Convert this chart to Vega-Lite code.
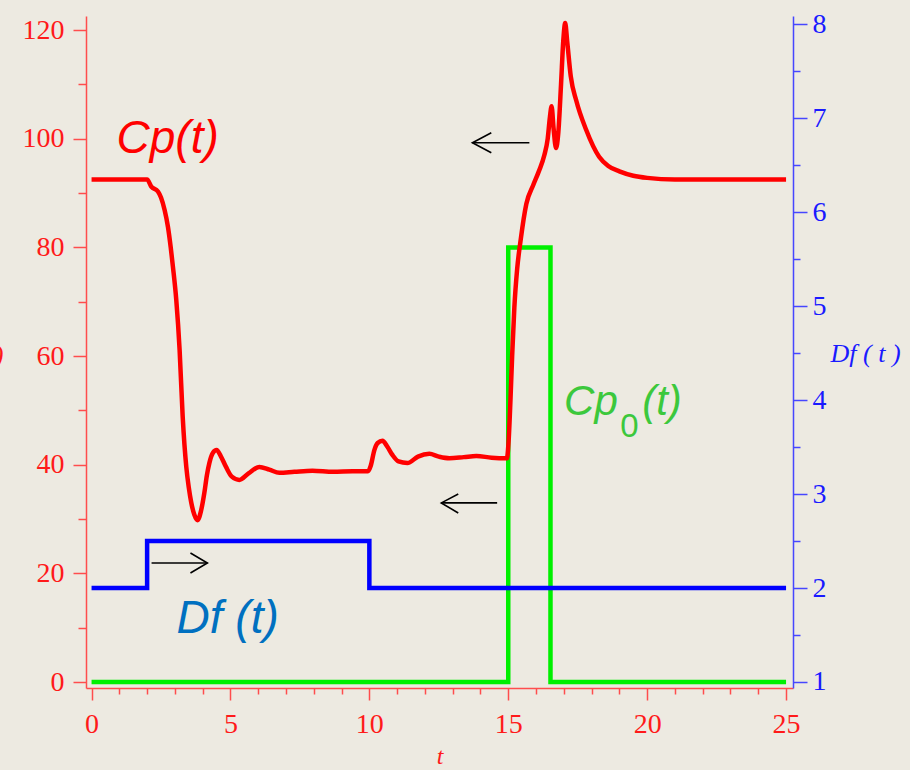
{
  "$schema": "https://vega.github.io/schema/vega-lite/v6.json",
  "width": 707,
  "height": 672,
  "autosize": "none",
  "padding": {"left": 86, "top": 16, "right": 117, "bottom": 82},
  "background": "#edeae1",
  "config": {"view": {"stroke": null}},
  "datasets": {
    "cp": [
      {"t":0,"v":92.5},{"t":1,"v":92.5},{"t":2.0,"v":92.5},{"t":2.15,"v":91.2},{"t":2.39,"v":90.3},{"t":2.5,"v":89.2},{"t":2.63,"v":86.9},{"t":2.75,"v":83.8},{"t":2.85,"v":80},{"t":2.93,"v":76.4},{"t":3.05,"v":70.3},{"t":3.17,"v":61.1},{"t":3.28,"v":48.9},{"t":3.41,"v":39.6},{"t":3.5,"v":35.8},{"t":3.59,"v":33},{"t":3.7,"v":30.8},{"t":3.82,"v":29.8},{"t":3.94,"v":31.5},{"t":4.06,"v":34.8},{"t":4.15,"v":38},{"t":4.24,"v":40.3},{"t":4.37,"v":42.2},{"t":4.5,"v":42.7},{"t":4.65,"v":41.6},{"t":4.84,"v":39.6},{"t":5.05,"v":37.8},{"t":5.32,"v":37.2},{"t":5.65,"v":38.4},{"t":6.04,"v":39.6},{"t":6.4,"v":39.1},{"t":6.76,"v":38.5},{"t":7.3,"v":38.7},{"t":7.95,"v":38.9},{"t":8.7,"v":38.7},{"t":9.4,"v":38.8},{"t":9.95,"v":38.8},{"t":10.05,"v":39.8},{"t":10.18,"v":42.7},{"t":10.3,"v":44},{"t":10.47,"v":44.4},{"t":10.65,"v":43.3},{"t":10.83,"v":41.8},{"t":11.05,"v":40.6},{"t":11.37,"v":40.3},{"t":11.75,"v":41.5},{"t":12.16,"v":42.0},{"t":12.5,"v":41.5},{"t":12.88,"v":41.2},{"t":13.4,"v":41.4},{"t":13.85,"v":41.6},{"t":14.4,"v":41.3},{"t":14.95,"v":41.2},{"t":15.02,"v":45},{"t":15.08,"v":52},{"t":15.14,"v":60},{"t":15.22,"v":69},{"t":15.32,"v":76},{"t":15.45,"v":81.5},{"t":15.65,"v":88},{"t":15.9,"v":91.5},{"t":16.1,"v":94},{"t":16.3,"v":97},{"t":16.42,"v":100},{"t":16.5,"v":104},{"t":16.56,"v":106},{"t":16.63,"v":102},{"t":16.72,"v":98.3},{"t":16.8,"v":101},{"t":16.9,"v":110},{"t":16.98,"v":118},{"t":17.05,"v":121.3},{"t":17.12,"v":118},{"t":17.25,"v":111.5},{"t":17.45,"v":107},{"t":17.8,"v":101.7},{"t":18.27,"v":96.7},{"t":18.6,"v":95},{"t":19.0,"v":94},{"t":19.5,"v":93.2},{"t":20.0,"v":92.8},{"t":21,"v":92.5},{"t":25,"v":92.5}
    ],
    "cp0": [
      {"t":0,"v":0},{"t":15.0,"v":0},{"t":15.0,"v":80},{"t":16.52,"v":80},{"t":16.52,"v":0},{"t":25,"v":0}
    ],
    "df": [
      {"t":0,"v":2},{"t":2.0,"v":2},{"t":2.0,"v":2.5},{"t":10.0,"v":2.5},{"t":10.0,"v":2},{"t":25,"v":2}
    ],
    "arrows": [
      {"seg":"a1s","ord":1,"t":13.71,"v":99.26},{"seg":"a1s","ord":2,"t":15.76,"v":99.26},
      {"seg":"a1h","ord":1,"t":14.39,"v":101.1},{"seg":"a1h","ord":2,"t":13.71,"v":99.26},{"seg":"a1h","ord":3,"t":14.39,"v":97.42},
      {"seg":"a2s","ord":1,"t":12.59,"v":32.97},{"seg":"a2s","ord":2,"t":14.6,"v":32.97},
      {"seg":"a2h","ord":1,"t":13.2,"v":34.62},{"seg":"a2h","ord":2,"t":12.59,"v":32.97},{"seg":"a2h","ord":3,"t":13.2,"v":31.12},
      {"seg":"a3s","ord":1,"t":2.16,"v":21.92},{"seg":"a3s","ord":2,"t":4.17,"v":21.92},
      {"seg":"a3h","ord":1,"t":3.56,"v":23.76},{"seg":"a3h","ord":2,"t":4.17,"v":21.92},{"seg":"a3h","ord":3,"t":3.56,"v":20.07}
    ]
  },
  "encoding": {
    "x": {
      "field": "t", "type": "quantitative",
      "scale": {"domain": [-0.2, 25.25], "nice": false, "zero": false},
      "axis": {
        "values": [0,1,2,3,4,5,6,7,8,9,10,11,12,13,14,15,16,17,18,19,20,21,22,23,24,25],
        "labelExpr": "datum.value % 5 === 0 ? datum.label : ''",
        "tickSize": {"condition": {"test": "datum.value % 5 === 0", "value": 12}, "value": 6},
        "labelPadding": 10,
        "grid": false,
        "domainColor": "#ff4d4d", "domainWidth": 1.5,
        "tickColor": "#ff4d4d", "tickWidth": 1.5,
        "labelColor": "#ff1a1a", "labelFont": "Liberation Serif", "labelFontSize": 28,
        "labelFlush": false, "labelOverlap": false,
        "title": "t", "titleFont": "Liberation Serif", "titleFontStyle": "italic", "titleFontWeight": "normal",
        "titleFontSize": 24, "titleColor": "#ff1a1a", "titleY": 75, "titleBaseline": "alphabetic"
      }
    }
  },
  "layer": [
    {
      "encoding": {
        "y": {
          "field": "v", "type": "quantitative",
          "scale": {"domain": [-1.1, 122.6], "nice": false, "zero": false},
          "axis": {
            "orient": "left",
            "values": [0,10,20,30,40,50,60,70,80,90,100,110,120],
            "labelExpr": "datum.value % 20 === 0 ? datum.label : ''",
            "tickSize": {"condition": {"test": "datum.value % 20 === 0", "value": 13}, "value": 8},
            "labelPadding": 9,
            "grid": false,
            "domainColor": "#ff4d4d", "domainWidth": 1.5,
            "tickColor": "#ff4d4d", "tickWidth": 1.5,
            "labelColor": "#ff1a1a", "labelFont": "Liberation Serif", "labelFontSize": 28,
            "labelFlush": false, "labelOverlap": false,
            "title": "Cp(t)", "titleFont": "Liberation Serif", "titleFontStyle": "italic", "titleFontWeight": "normal",
            "titleFontSize": 27, "titleColor": "#ff1a1a", "titleAngle": 0,
            "titleX": -83, "titleY": 339, "titleAlign": "right", "titleBaseline": "middle"
          }
        }
      },
      "layer": [
        {"data": {"name": "cp0"}, "mark": {"type": "line", "color": "#00f000", "strokeWidth": 4.5, "interpolate": "linear"}},
        {"data": {"name": "cp"}, "mark": {"type": "line", "color": "#ff0000", "strokeWidth": 4.5, "interpolate": "monotone"}},
        {"data": {"name": "arrows"}, "mark": {"type": "line", "color": "#000000", "strokeWidth": 1.6},
         "encoding": {"detail": {"field": "seg"}, "order": {"field": "ord"}}},
        {"data": {"values": [{"t": 0.9, "v": 97.4, "label": "Cp(t)"}]},
         "mark": {"type": "text", "font": "Liberation Sans", "fontStyle": "italic", "fontSize": 46, "color": "#ff0000", "align": "left", "baseline": "alphabetic"},
         "encoding": {"text": {"field": "label"}}},
        {"data": {"values": [{"t": 3.06, "v": 9.0, "label": "Df (t)"}]},
         "mark": {"type": "text", "font": "Liberation Sans", "fontStyle": "italic", "fontSize": 46, "color": "#0070c0", "align": "left", "baseline": "alphabetic"},
         "encoding": {"text": {"field": "label"}}},
        {"data": {"values": [{"t": 17.01, "v": 49.2, "label": "Cp"}, {"t": 19.82, "v": 49.2, "label": "(t)"}]},
         "mark": {"type": "text", "font": "Liberation Sans", "fontStyle": "italic", "fontSize": 42, "color": "#3cc83c", "align": "left", "baseline": "alphabetic"},
         "encoding": {"text": {"field": "label"}}},
        {"data": {"values": [{"t": 19.03, "v": 45.1, "label": "0"}]},
         "mark": {"type": "text", "font": "Liberation Sans", "fontSize": 33, "color": "#3cc83c", "align": "left", "baseline": "alphabetic"},
         "encoding": {"text": {"field": "label"}}}
      ]
    },
    {
      "data": {"name": "df"},
      "mark": {"type": "line", "color": "#0000ff", "strokeWidth": 4.5},
      "encoding": {
        "y": {
          "field": "v", "type": "quantitative",
          "scale": {"domain": [0.936, 8.09], "nice": false, "zero": false},
          "axis": {
            "orient": "right",
            "values": [1,1.5,2,2.5,3,3.5,4,4.5,5,5.5,6,6.5,7,7.5,8],
            "labelExpr": "datum.value % 1 === 0 ? format(datum.value, 'd') : ''",
            "tickSize": {"condition": {"test": "datum.value % 1 === 0", "value": 14}, "value": 7},
            "labelPadding": 5,
            "grid": false,
            "domainColor": "#4646ff", "domainWidth": 1.5,
            "tickColor": "#4646ff", "tickWidth": 1.5,
            "labelColor": "#1a1aff", "labelFont": "Liberation Serif", "labelFontSize": 28,
            "labelFlush": false, "labelOverlap": false,
            "title": "Df ( t )", "titleFont": "Liberation Serif", "titleFontStyle": "italic", "titleFontWeight": "normal",
            "titleFontSize": 26, "titleColor": "#1a1aff", "titleAngle": 0,
            "titleX": 37, "titleY": 337, "titleAlign": "left", "titleBaseline": "middle"
          }
        }
      }
    }
  ],
  "resolve": {"scale": {"y": "independent"}}
}
